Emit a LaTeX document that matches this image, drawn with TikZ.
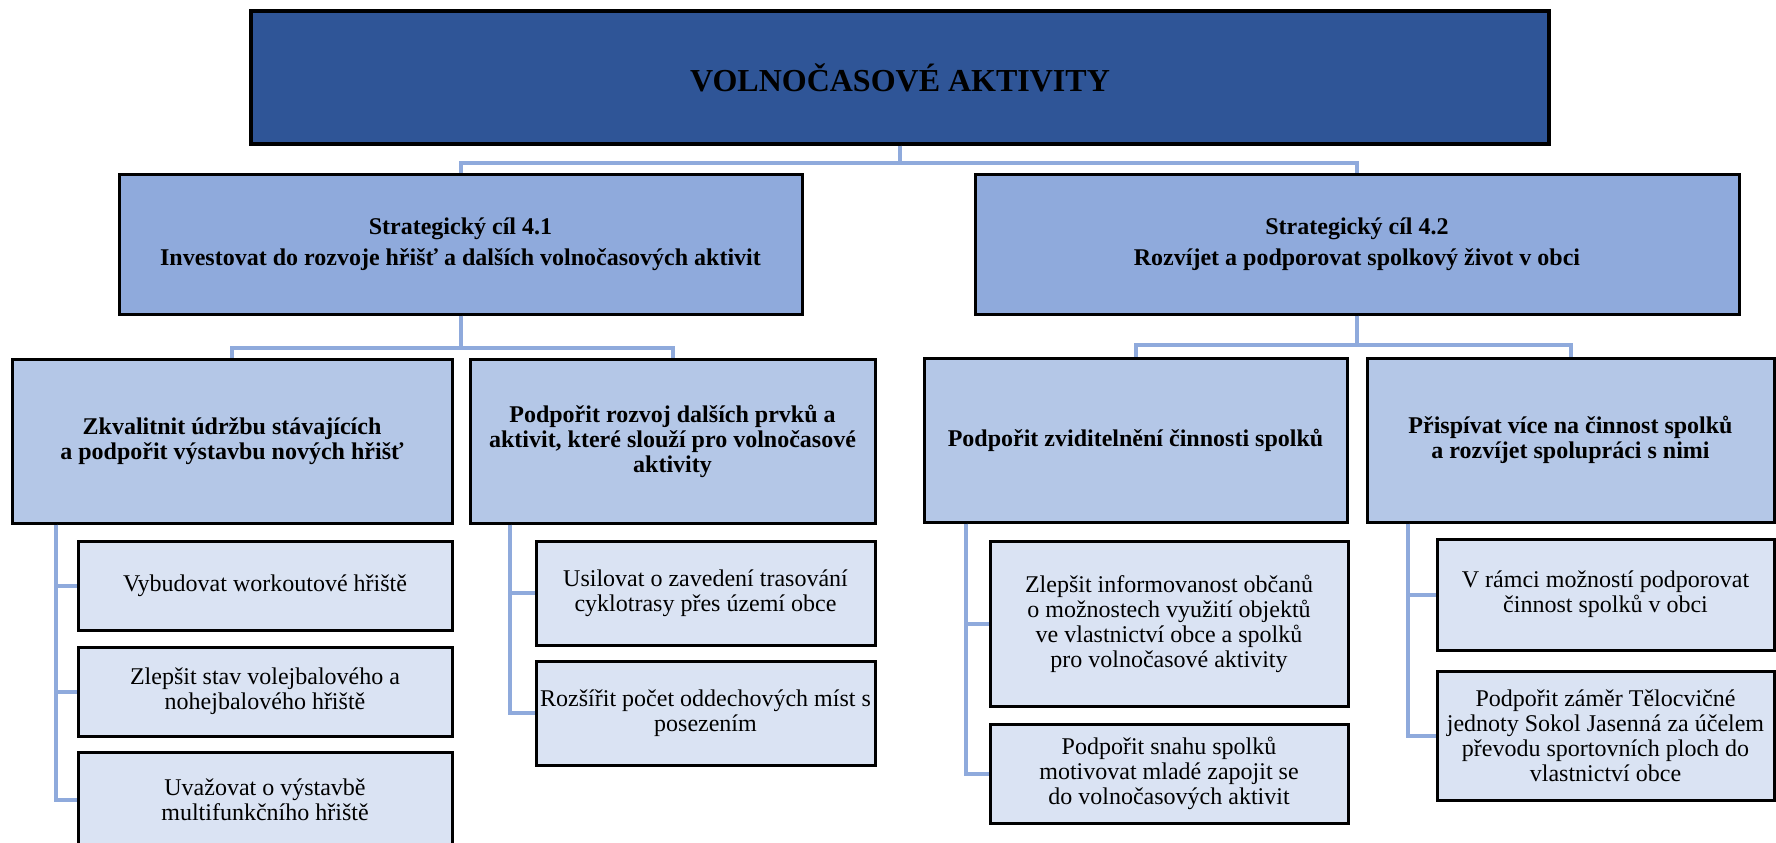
\documentclass[tikz,border=0pt]{standalone}
\usepackage{fontspec}
\setmainfont{Liberation Serif}
\usetikzlibrary{shapes}
\usetikzlibrary{positioning}
\usetikzlibrary{calc}
\definecolor{darkblue}{HTML}{2F5597}
\definecolor{midblue}{HTML}{8FAADC}
\definecolor{lightblue}{HTML}{B4C7E7}
\definecolor{paleblue}{HTML}{DAE3F3}

\begin{document}
\begin{tikzpicture}[x=0.5pt,y=-0.5pt]
\tikzstyle{main} = [rectangle, draw=black, line width=1.6pt, fill=darkblue,
minimum width=649pt, minimum height=66.5pt, font=\fontsize{16}{19}\selectfont\bfseries]
\tikzstyle{goal} = [rectangle, draw=black, line width=1.5pt, fill=midblue,
minimum height=70pt, align=center, font=\fontsize{12}{15.5}\selectfont\bfseries]
\tikzstyle{aim} = [rectangle, draw=black, line width=1.5pt, fill=lightblue,
minimum height=82pt, align=center, inner sep=1pt, font=\fontsize{12}{12.5}\selectfont\bfseries]
\tikzstyle{task} = [rectangle, draw=black, line width=1.5pt, fill=paleblue,
align=center, inner sep=1pt, font=\fontsize{12}{12.5}\selectfont]
\tikzstyle{link} = [draw=midblue, line width=2pt]
\useasboundingbox (0,0) rectangle (1776,842);
% level 0
\node [main] (top) at (900,77.5) {VOLNOČASOVÉ AKTIVITY};
% level 1
\node [goal, minimum width=341.5pt] (goal1) at (460.5,244)
  {Strategický cíl 4.1\\Investovat do rozvoje hřišť a dalších volnočasových aktivit};
\node [goal, minimum width=382pt] (goal2) at (1357,244)
  {Strategický cíl 4.2\\Rozvíjet a podporovat spolkový život v obci};
% level 2
\node [aim, minimum width=220pt] (aimA) at (232,441)
  {Zkvalitnit údržbu stávajících\\a podpořit výstavbu nových hřišť};
\node [aim, minimum width=202.5pt] (aimB) at (672.5,441)
  {Podpořit rozvoj dalších prvků a\\aktivit, které slouží pro volnočasové\\aktivity};
\node [aim, minimum width=211.5pt] (aimC) at (1135.5,440)
  {Podpořit zviditelnění činnosti spolků};
\node [aim, minimum width=203.5pt] (aimD) at (1570.5,440)
  {Přispívat více na činnost spolků\\a rozvíjet spolupráci s nimi};
% level 3
\node [task, minimum width=187pt, minimum height=44.5pt] (taskA1) at (265,585.5)
  {Vybudovat workoutové hřiště};
\node [task, minimum width=187pt, minimum height=44.5pt] (taskA2) at (265,691.5)
  {Zlepšit stav volejbalového a\\nohejbalového hřiště};
\node [task, minimum width=187pt, minimum height=48pt] (taskA3) at (265,800)
  {Uvažovat o výstavbě\\multifunkčního hřiště};
\node [task, minimum width=169.5pt, minimum height=52pt] (taskB1) at (705.5,593)
  {Usilovat o zavedení trasování\\cyklotrasy přes území obce};
\node [task, minimum width=169.5pt, minimum height=52pt] (taskB2) at (705.5,713)
  {Rozšířit počet oddechových míst s\\posezením};
\node [task, minimum width=179pt, minimum height=82.5pt] (taskC1) at (1169,623.5)
  {Zlepšit informovanost občanů\\o možnostech využití objektů\\ve vlastnictví obce a spolků\\pro volnočasové aktivity};
\node [task, minimum width=179pt, minimum height=49.5pt] (taskC2) at (1169,773.5)
  {Podpořit snahu spolků\\motivovat mladé zapojit se\\do volnočasových aktivit};
\node [task, minimum width=168.5pt, minimum height=55.5pt] (taskD1) at (1605.5,594.5)
  {V rámci možností podporovat\\činnost spolků v obci};
\node [task, minimum width=168.5pt, minimum height=64.5pt] (taskD2) at (1605.5,735.5)
  {Podpořit záměr Tělocvičné\\jednoty Sokol Jasenná za účelem\\převodu sportovních ploch do\\vlastnictví obce};
% connectors
\draw [link] (top.south) -- ++(0,17) -| (goal1.north);
\draw [link] (top.south) -- ++(0,17) -| (goal2.north);
\draw [link] (goal1.south) -- ++(0,32) -| (aimA.north);
\draw [link] (goal1.south) -- ++(0,32) -| (aimB.north);
\draw [link] (goal2.south) -- ++(0,29) -| (aimC.north);
\draw [link] (goal2.south) -- ++(0,29) -| (aimD.north);
\draw [link] (aimA.south west) ++(45.5,0) |- (taskA1.west);
\draw [link] (aimA.south west) ++(45.5,0) |- (taskA2.west);
\draw [link] (aimA.south west) ++(45.5,0) |- (taskA3.west);
\draw [link] (aimB.south west) ++(41,0) |- (taskB1.west);
\draw [link] (aimB.south west) ++(41,0) |- (taskB2.west);
\draw [link] (aimC.south west) ++(43,0) |- (taskC1.west);
\draw [link] (aimC.south west) ++(43,0) |- (taskC2.west);
\draw [link] (aimD.south west) ++(42,0) |- (taskD1.west);
\draw [link] (aimD.south west) ++(42,0) |- (taskD2.west);
\end{tikzpicture}
\end{document}
